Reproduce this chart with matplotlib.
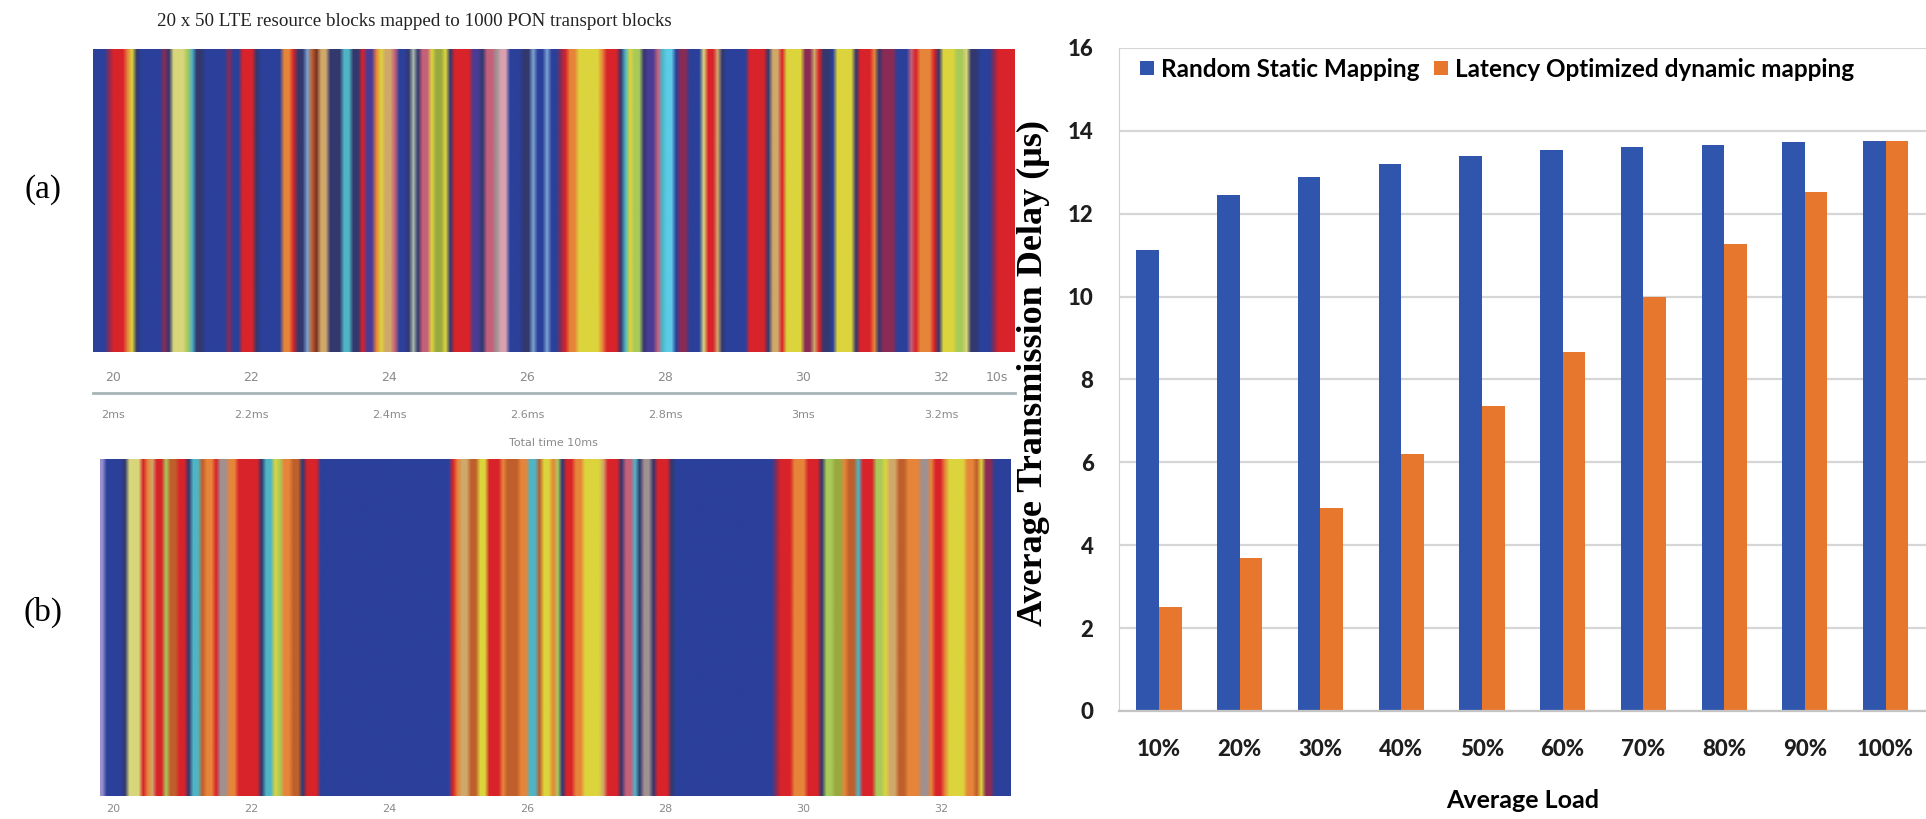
import numpy as np
import matplotlib.pyplot as plt
from matplotlib.colors import to_rgb

# ---- bar chart data ----
loads = ['10%', '20%', '30%', '40%', '50%', '60%', '70%', '80%', '90%', '100%']
random_static = [11.12, 12.45, 12.88, 13.19, 13.40, 13.55, 13.62, 13.67, 13.73, 13.76]
latency_opt = [2.5, 3.7, 4.89, 6.2, 7.35, 8.67, 10.0, 11.27, 12.53, 13.76]
delay_ticks = [0, 2, 4, 6, 8, 10, 12, 14, 16]

# ---- stripe maps (colour code, width in slots) ----
strip_a_codes = "BMROYDBMDyGCDBMBRDBORDLNnTDCDRPOYTKBDeDKYgYDRPDKSkBDLBLBMROYORDCYGDPKCcBMByRTDBRDTRYMTRDBYDRODMBKRORDYGyDBMR"
strip_a_widths = [3, 1, 3, 1, 1, 1, 5, 1, 1, 3, 1, 1, 2, 5, 1, 2, 3, 1, 5,
                  2, 1, 2, 1, 1, 1, 2, 3, 2, 2, 1, 2, 1, 1, 2, 1, 2, 1, 1, 1, 2, 1, 2, 1, 1,
                  4, 2, 1, 2, 1, 2, 3, 2, 1, 2, 1, 2, 1, 1, 2, 5, 1, 3, 1, 1, 1, 2, 1, 2, 1, 1, 2,
                  1, 2, 3, 1, 2, 1, 1, 5, 4, 1, 2, 1, 4, 2, 1, 1, 2, 1, 4, 1, 3, 1, 1,
                  3, 3, 1, 1, 3, 1, 1, 3, 2, 1, 2, 3, 1, 4]
strip_b_codes = "lBDyROTRGNRDCNORSORDCYGONDRBROTNYRONOCNYOGDROYTRDKCDSDRDBMRORDGgONCRGYTNOSOROYONYMB"
strip_b_widths = [1, 4, 1, 3, 1, 1, 1, 2, 1, 2, 2, 1, 2, 1, 2, 1, 2, 2, 5, 1,
                  2, 1, 1, 2, 2, 1, 3, 29, 1, 1, 2, 2, 2, 3, 1, 3, 2, 2,
                  1, 2, 1, 1, 1, 2, 2, 4, 1, 3, 1, 2, 1, 1, 2, 1, 3, 1, 22,
                  1, 3, 3, 3, 1, 2, 2, 1, 2, 1, 3, 2, 1, 2, 2, 3, 2, 1, 2, 1,
                  4, 2, 1, 1, 2, 4]

subframe_ticks = [20, 22, 24, 26, 28, 30, 32, 32.8]
subframe_labels = ['20', '22', '24', '26', '28', '30', '32', '10s']
time_ticks = [2.0, 2.2, 2.4, 2.6, 2.8, 3.0, 3.2]
time_labels = ['2ms', '2.2ms', '2.4ms', '2.6ms', '2.8ms', '3ms', '3.2ms']

palette = {
    'B': '#2b409a', 'R': '#d8232a', 'Y': '#dcd43c', 'y': '#d8d67a', 'G': '#a9c95a',
    'g': '#9aa840', 'C': '#4fb5c5', 'c': '#5ccbe6', 'O': '#e6853a', 'N': '#bf5f2c',
    'n': '#7a3422', 'T': '#cfa86a', 'D': '#33386e', 'M': '#8a2b55', 'P': '#4a3c95',
    'K': '#c4607a', 'k': '#d8a0b0', 'L': '#7aa2d2', 'S': '#a09090', 'e': '#a8b8a8',
    'l': '#9a90d0',
}


def stripe_image(codes, widths):
    cols = np.array([to_rgb(palette[c]) for c in codes])
    row = np.repeat(cols, widths, axis=0)
    return np.stack([row, row])


fig = plt.figure(figsize=(19.26, 8.19), dpi=100)

serif = 'Liberation Serif'
gray = '#8a8a8a'

# ---- (a) ----
ax_a = fig.add_axes([0.0483, 0.5702, 0.4787, 0.3700])
ax_a.imshow(stripe_image(strip_a_codes, strip_a_widths), aspect='auto',
            extent=(19.71, 33.07, 0, 1), interpolation='bilinear')
ax_a.set_xlim(19.71, 33.07)
ax_a.set_ylim(0, 1)
ax_a.set_yticks([])
ax_a.set_xticks(subframe_ticks)
ax_a.set_xticklabels(subframe_labels, fontsize=9, color=gray)
ax_a.tick_params(axis='x', length=0, pad=14)
for s in ax_a.spines.values():
    s.set_visible(False)

sec = ax_a.secondary_xaxis(-0.135, functions=(lambda x: x / 10, lambda x: x * 10))
sec.set_xticks(time_ticks)
sec.set_xticklabels(time_labels, fontsize=8, color=gray)
sec.tick_params(axis='x', length=0, pad=12)
sec.spines['bottom'].set_color('#a8b4b8')
sec.spines['bottom'].set_linewidth(2)

fig.text(553 / 1926, 1 - 443 / 819, 'Total time 10ms', fontsize=8, color=gray,
         ha='center', va='center')
fig.text(414 / 1926, 1 - 21 / 819,
         '20 x 50 LTE resource blocks mapped to 1000 PON transport blocks',
         family=serif, fontsize=13.7, color='#222222', ha='center', va='center')
fig.text(43 / 1926, 1 - 190 / 819, '(a)', family=serif, fontsize=24,
         ha='center', va='center')

# ---- (b) ----
ax_b = fig.add_axes([0.0519, 0.0281, 0.4725, 0.4115])
ax_b.imshow(stripe_image(strip_b_codes, strip_b_widths), aspect='auto',
            extent=(19.81, 33.0, 0, 1), interpolation='bilinear')
ax_b.set_xlim(19.81, 33.0)
ax_b.set_ylim(0, 1)
ax_b.set_yticks([])
ax_b.set_xticks(subframe_ticks[:-1])
ax_b.set_xticklabels(subframe_labels[:-1], fontsize=8, color=gray)
ax_b.tick_params(axis='x', length=0, pad=6)
for s in ax_b.spines.values():
    s.set_visible(False)
fig.text(43 / 1926, 1 - 612 / 819, '(b)', family=serif, fontsize=24,
         ha='center', va='center')

# ---- bar chart ----
ax = fig.add_axes([0.5808, 0.1319, 0.4192, 0.8095])
x = np.arange(len(loads))
w = 0.28
ax.bar(x - w / 2, random_static, w, color='#3055ad', label='Random Static Mapping')
ax.bar(x + w / 2, latency_opt, w, color='#e8772e', label='Latency Optimized dynamic mapping')
ax.set_xlim(-0.5, len(loads) - 0.5)
ax.set_ylim(0, 16)
ax.set_yticks(delay_ticks)
ax.set_xticks(x)
ax.set_xticklabels(loads)
ax.set_axisbelow(True)
ax.yaxis.grid(True, color='#d6d6d6', lw=1.6)
for lab in ax.get_xticklabels() + ax.get_yticklabels():
    lab.set_family('Lato')
    lab.set_weight('black')
    lab.set_fontsize(16)
    lab.set_color('#1e1e1e')
ax.tick_params(axis='x', length=0, pad=20)
ax.tick_params(axis='y', length=0, pad=18)
ax.spines['top'].set_visible(False)
ax.spines['right'].set_visible(False)
ax.spines['left'].set_color('#d0d0d0')
ax.spines['bottom'].set_color('#c4c4c4')
ax.spines['bottom'].set_linewidth(1.6)

ax.set_xlabel('Average Load', family='Lato', weight='bold', fontsize=18, labelpad=21)
ax.set_ylabel('Average Transmission Delay (\u03bcs)', family=serif, weight='bold',
              fontsize=26, va='center')
ax.yaxis.set_label_coords(-0.106, 0.51)

ax.legend(ncol=2, loc='center left', bbox_to_anchor=(0.0, 0.968), frameon=False,
          handlelength=0.55, handleheight=0.55, handletextpad=0.3, columnspacing=0.6,
          prop=dict(family='Lato', weight='bold', size=17.5))

fig.savefig('out.png', dpi=100)
